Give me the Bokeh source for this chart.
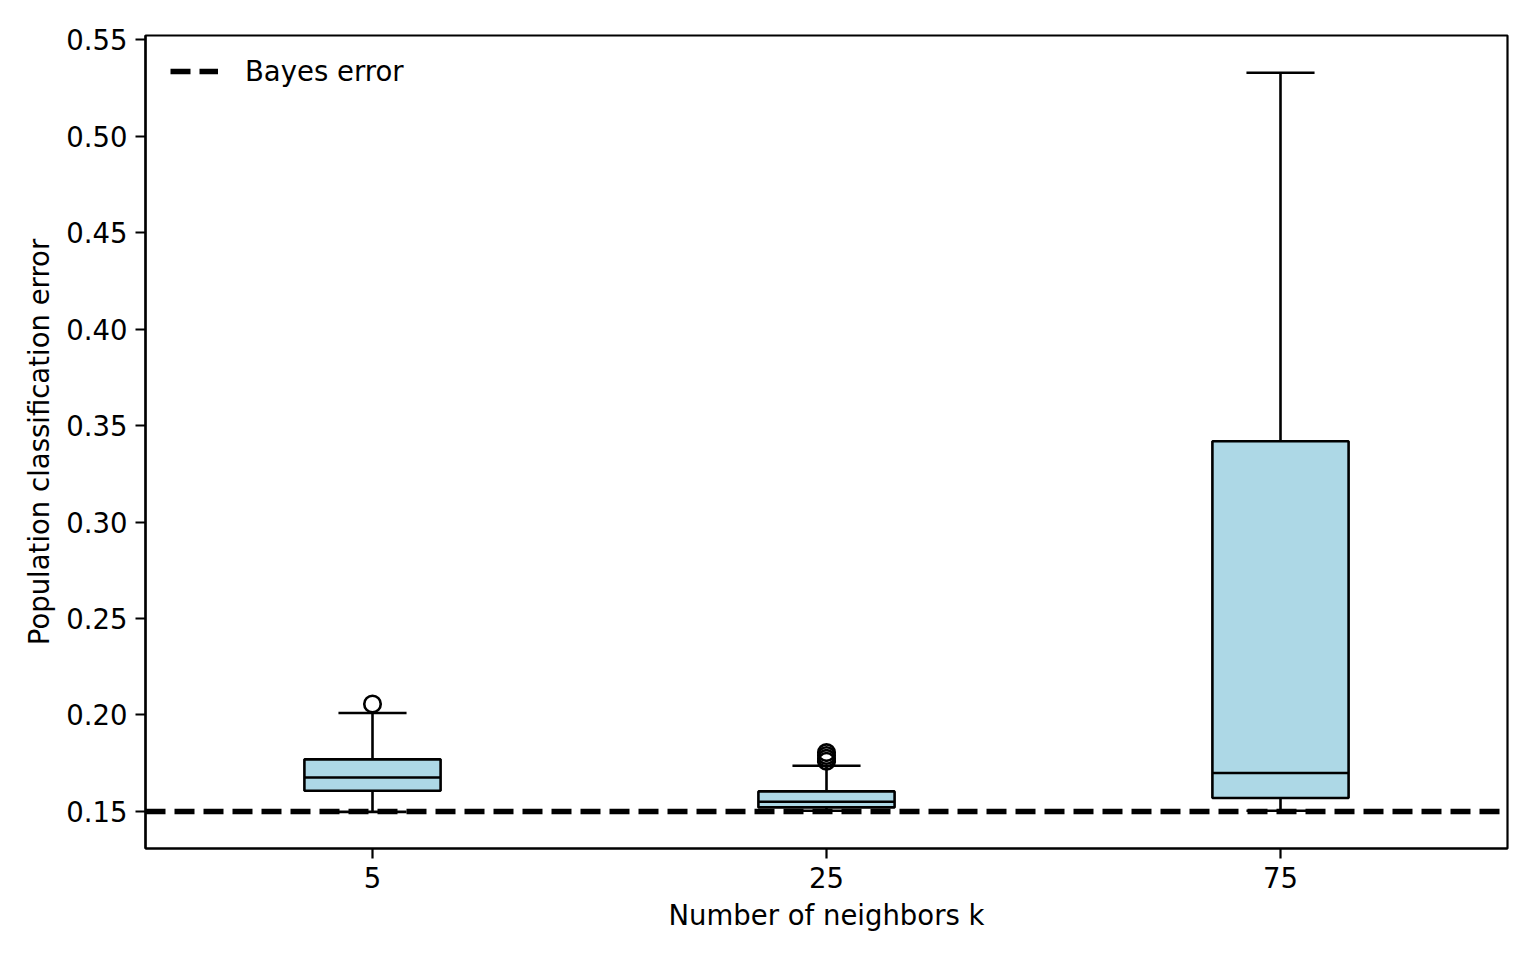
from bokeh.plotting import figure
from bokeh.models import ColumnDataSource, FactorRange, Range1d, Span, FixedTicker, PrintfTickFormatter, Legend, LegendItem
from bokeh.transform import dodge
from bokeh.embed import file_html
from bokeh.resources import INLINE

# ---- data ----
k_labels = ["5", "25", "75"]
lower_whisker = [0.1498, 0.1504, 0.1504]
q1 = [0.1607, 0.1521, 0.1570]
median = [0.1676, 0.1550, 0.1699]
q3 = [0.1770, 0.1604, 0.3419]
upper_whisker = [0.2010, 0.1737, 0.5329]
outlier_k = ["5", "25", "25", "25", "25"]
outlier_val = [0.2057, 0.1805, 0.1790, 0.1775, 0.1760]
bayes_error = 0.15
y_ticks = [0.15, 0.20, 0.25, 0.30, 0.35, 0.40, 0.45, 0.50, 0.55]

FONT = "DejaVu Sans"
FS = "27.5px"
LW = 2.6

src = ColumnDataSource(dict(k=k_labels, lo=lower_whisker, q1=q1, med=median, q3=q3, hi=upper_whisker))
out_src = ColumnDataSource(dict(k=outlier_k, v=outlier_val))

p = figure(
    x_range=FactorRange(*k_labels, range_padding=0),
    y_range=Range1d(0.1308, 0.5522),
    frame_width=1362, frame_height=813,
    min_border_left=145, min_border_right=21, min_border_top=35, min_border_bottom=104,
    output_backend="svg", toolbar_location=None,
    background_fill_color="white", border_fill_color="white",
)
p.xgrid.visible = False
p.ygrid.visible = False
p.outline_line_color = "black"
p.outline_line_width = 2.2

# whiskers (vertical)
p.segment(x0="k", y0="lo", x1="k", y1="q1", source=src, line_color="black", line_width=LW)
p.segment(x0="k", y0="q3", x1="k", y1="hi", source=src, line_color="black", line_width=LW)
# caps
p.segment(x0=dodge("k", -0.075, range=p.x_range), y0="hi", x1=dodge("k", 0.075, range=p.x_range), y1="hi",
          source=src, line_color="black", line_width=LW)
p.segment(x0=dodge("k", -0.075, range=p.x_range), y0="lo", x1=dodge("k", 0.075, range=p.x_range), y1="lo",
          source=src, line_color="black", line_width=LW)

# Bayes error line
span = Span(location=bayes_error, dimension="width", line_color="black", line_width=5.5, line_dash="20 9")
p.add_layout(span)

# boxes
p.vbar(x="k", width=0.3, bottom="q1", top="q3", source=src, fill_color="#add8e6",
       line_color="black", line_width=LW)
# medians
p.segment(x0=dodge("k", -0.15, range=p.x_range), y0="med", x1=dodge("k", 0.15, range=p.x_range), y1="med",
          source=src, line_color="black", line_width=LW)
# outliers
p.scatter(x="k", y="v", source=out_src, marker="circle", size=16.5, fill_color="white", fill_alpha=0,
          line_color="black", line_width=LW)

# legend (proxy renderer placed outside the visible y range)
dummy = p.line(x=[k_labels[0], k_labels[0]], y=[bayes_error - 1, bayes_error - 1],
               line_color="black", line_width=5.5, line_dash="20 9")
legend = Legend(items=[LegendItem(label="Bayes error", renderers=[dummy])], location=(12, 748))
legend.label_text_font = FONT
legend.label_text_font_size = FS
legend.label_text_color = "black"
legend.glyph_width = 48
legend.glyph_height = 28
legend.label_standoff = 27
legend.margin = 0
legend.padding = 13
legend.border_line_alpha = 0
legend.background_fill_alpha = 0
p.add_layout(legend)

# axes
p.xaxis.axis_label = "Number of neighbors k"
p.yaxis.axis_label = "Population classification error"
p.yaxis.ticker = FixedTicker(ticks=y_ticks)
p.yaxis.formatter = PrintfTickFormatter(format="%.2f")
for ax in (p.xaxis[0], p.yaxis[0]):
    ax.axis_line_color = "black"
    ax.axis_line_width = 2.2
    ax.major_tick_line_color = "black"
    ax.major_tick_line_width = 2.2
    ax.major_tick_out = 10
    ax.major_tick_in = 0
    ax.minor_tick_line_color = None
    ax.major_label_text_font = FONT
    ax.major_label_text_font_size = FS
    ax.major_label_text_color = "black"
    ax.major_label_standoff = 8
    ax.axis_label_text_font = FONT
    ax.axis_label_text_font_size = FS
    ax.axis_label_text_font_style = "normal"
    ax.axis_label_text_color = "black"
p.xaxis.axis_label_standoff = 8
p.yaxis.axis_label_standoff = 8
p.xaxis.group_text_font_size = "0px"

open("out.html", "w").write(file_html(p, INLINE))
